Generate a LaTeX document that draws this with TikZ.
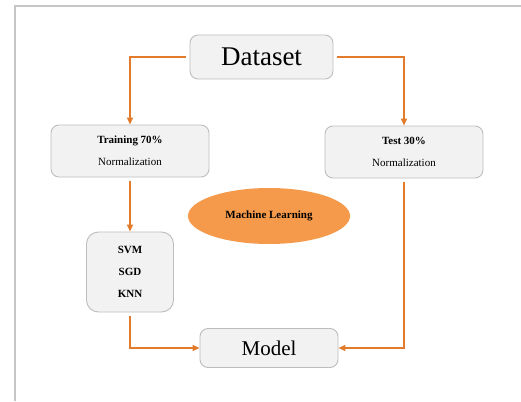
\documentclass[tikz,border=0pt]{standalone}
\usepackage{fontspec}
\setmainfont{Liberation Serif}
\usetikzlibrary{arrows.meta,shapes.geometric}
\definecolor{flow}{HTML}{E27C2C}
\definecolor{blob}{HTML}{F59A4B}
\definecolor{boxfill}{HTML}{F2F2F2}
\definecolor{boxline}{HTML}{BDBDBD}
\definecolor{frameline}{HTML}{C6C6C6}
\tikzset{
  stepbox/.style={draw=boxline, fill=boxfill, line width=0.9pt, rounded corners=8pt, inner sep=0pt, align=center},
  flowline/.style={draw=flow, line width=1.8pt, -{Triangle[length=7pt,width=6pt]}, shorten <=4pt},
  smalltxt/.style={font=\fontsize{11}{22}\selectfont},
}
\begin{document}
\begin{tikzpicture}[x=1pt,y=-1pt]
\useasboundingbox (0,0) rectangle (521,401);
\fill[white] (0,0) rectangle (521,401);
% page frame
\draw[frameline, line width=1.6pt] (15,401) -- (15,6) -- (521,6);

% boxes
\node[stepbox, minimum width=143pt, minimum height=44pt, font=\fontsize{27}{30}\selectfont] (data) at (261.5,57) {Dataset};
\node[stepbox, minimum width=158pt, minimum height=52pt, smalltxt] (train) at (130,151) {\textbf{Training 70\%}\\Normalization};
\node[stepbox, minimum width=158pt, minimum height=52pt, smalltxt] (test) at (404,152) {\textbf{Test 30\%}\\Normalization};
\node[ellipse, fill=blob, minimum width=162pt, minimum height=56pt, inner sep=0pt, font=\fontsize{11}{13}\selectfont\bfseries] (ml) at (269,216) {Machine Learning};
\node[stepbox, rounded corners=12pt, minimum width=87pt, minimum height=80pt, font=\fontsize{11}{22}\selectfont\bfseries] (algo) at (130,272) {SVM\\SGD\\KNN};
\node[stepbox, minimum width=138pt, minimum height=39pt, font=\fontsize{21}{24}\selectfont] (model) at (269,348) {Model};

% connectors
\draw[flowline] (data.west) -| (train.north);
\draw[flowline] (data.east) -| (test.north);
\draw[flowline] (train.south) -- (algo.north);
\draw[flowline] (algo.south) |- (model.west);
\draw[flowline] (test.south) |- (model.east);
\end{tikzpicture}
\end{document}
